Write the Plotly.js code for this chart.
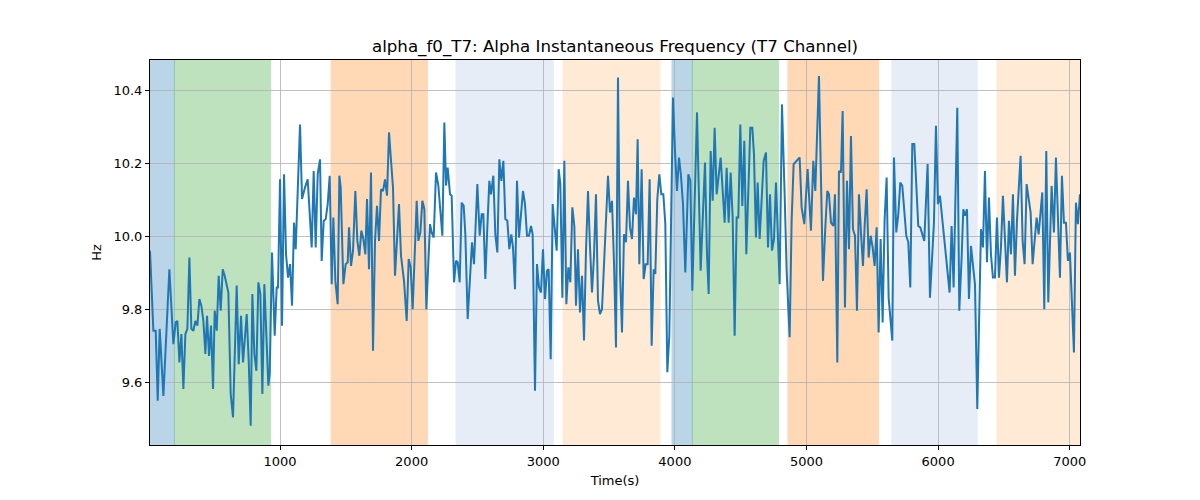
<!DOCTYPE html>
<html>
<head>
<meta charset="utf-8">
<script src="https://cdn.plot.ly/plotly-3.0.1.min.js"></script>
<style>html,body{margin:0;padding:0;background:#fff;}#chart{width:1200px;height:500px;}</style>
</head>
<body>
<div id="chart"></div>
<script>
// Time (s) of each sample
const timeSec = [12,37.7,55.4,70.6,85.8,113.7,159.2,189.6,207.3,220.0,235.2,250.4,265.6,280.8,296.0,311.2,326.3,341.5,356.7,371.9,387.1,402.3,417.5,432.7,445.4,460.5,475.7,490.9,503.6,518.8,534.0,549.2,564.4,579.5,607.4,625.1,642.8,658.0,670.7,685.9,703.6,718.8,731.5,746.7,761.9,777.0,789.7,804.9,820.1,835.3,850.5,865.7,880.9,896.0,911.2,921.4,939.1,959.3,974.5,984.7,
1000,1015.2,1030.4,1045.6,1060.8,1076.0,1091.2,1106.3,1119.0,1151.9,1167.1,1189.9,1210.2,1240.5,1255.7,1270.9,1286.1,1303.8,1316.5,1331.7,1346.9,1362.1,1377.3,1392.5,1405.1,1420.3,1438.0,1450.7,1460.8,1481.1,1498.8,1514.0,1524.1,1539.3,1554.5,1572.2,1587.4,1602.6,1617.8,1633.0,1648.2,1660.9,1676.0,1691.2,1706.4,1721.6,1736.8,1752.0,1767.2,1782.4,1797.6,1812.8,1828.0,1843.2,1858.3,1873.5,1903.9,1919.1,1934.3,1941.9,1962.2,1977.4,1992.6,2007.7,
2038.3,2050.9,2066.1,2081.3,2096.5,2111.7,2139.5,2152.2,2167.4,2185.1,2202.8,2233.2,2248.4,2261.1,2273.7,2291.5,2304.1,2321.8,2337.0,2349.7,2364.9,2380.1,2395.3,2407.9,2425.7,2443.4,2458.6,2473.8,2486.4,2499.1,2516.8,2532.0,2544.7,2559.9,2575.0,2590.2,2602.9,2620.6,2635.8,2651.0,2666.2,2681.4,2696.6,2711.8,2727.0,2742.2,2757.3,2770.0,2785.2,2800.4,2815.6,2830.8,2846.0,2861.2,2876.4,2891.5,2906.7,2919.4,2937.1,2952.3,2967.5,2982.7,2997.9,3013.1,3028.3,3040.9,
3056.3,3071.5,3086.6,3101.8,3117.0,3129.7,3144.9,3160.1,3175.3,3190.5,3205.7,3220.8,3236.0,3248.7,3263.9,3279.1,3294.3,3309.5,3324.7,3339.9,3355.0,3370.2,3385.4,3400.6,3415.8,3431.0,3446.2,3461.4,3476.6,3491.8,3506.9,3522.1,3537.3,3552.5,3567.7,3582.9,3598.1,3613.3,3628.5,3643.7,3658.9,3674.1,3689.3,3704.5,3717.1,3729.8,3747.5,3762.7,3777.9,3793.1,3808.3,3823.5,3838.7,3851.3,3866.5,3881.7,3896.9,3912.1,3927.3,3942.5,3957.7,3970.3,3985.5,4000.7,4015.9,4031.1,4046.3,4061.5,4079.2,
4102.1,4117.3,4132.5,4150.2,4168.0,4195.8,4228.7,4243.9,4256.6,4271.8,4287.0,4302.1,4317.3,4347.7,4362.9,4378.1,4393.3,4408.5,4423.7,4438.9,4454.1,4469.3,4481.9,4497.1,4512.3,4527.5,4542.7,4557.9,4573.1,4588.3,4600.9,4616.1,4628.8,4644.0,4659.2,4674.4,4692.1,4707.3,4722.5,4737.7,4752.8,4768.0,4795.9,4813.6,4833.9,4849.1,4871.8,4887.0,4902.2,4932.6,4947.8,4963.0,4983.3,5008.6,5033.9,5051.6,5066.8,5094.7,5125.1,
5142.9,5158.1,5170.8,5186.0,5203.7,5216.3,5234.1,5246.7,5261.9,5274.6,5292.3,5307.5,5322.7,5337.9,5353.1,5368.3,5383.5,5398.6,5413.8,5429.0,5441.7,5456.9,5472.1,5487.3,5502.5,5517.6,5532.8,5548.0,5563.2,5578.4,5593.6,5608.8,5624.0,5651.8,5664.5,5682.2,5697.4,5712.6,5727.8,5758.2,5773.4,5788.6,5803.8,5819.0,5849.3,5864.5,5894.9,5920.2,5938.0,5968.4,5983.5,5998.7,6013.9,6044.3,6064.6,6087.3,6102.5,6117.7,6145.6,
6160.9,6178.6,6191.3,6204.0,6219.2,6234.3,6249.5,6279.9,6297.6,6325.5,6340.7,6355.9,6371.1,6386.3,6401.5,6416.6,6431.8,6447.0,6462.2,6477.4,6492.6,6523.0,6538.2,6553.4,6568.6,6583.8,6599.0,6626.8,6642.0,6657.2,6672.4,6702.8,6718.0,6748.3,6763.5,6791.4,6806.6,6821.8,6837.0,6862.3,6880.0,6895.2,6925.6,6940.8,6956.0,6971.2,6986.4,7001.5,7031.9,7047.1,7062.3,7077.5];

// Alpha instantaneous frequency (Hz)
const freqHz = [9.961,9.741,9.741,9.549,9.746,9.562,9.910,9.704,9.764,9.768,9.654,9.732,9.581,9.732,9.746,9.942,9.746,9.741,9.768,9.755,9.828,9.810,9.768,9.677,9.782,9.672,9.755,9.581,9.796,9.741,9.892,9.796,9.910,9.892,9.846,9.567,9.503,9.709,9.865,9.649,9.782,9.654,9.723,9.787,9.659,9.480,9.842,9.677,9.631,9.874,9.842,9.567,9.869,9.723,9.590,9.622,9.956,9.727,9.860,9.860,
10.157,9.755,10.171,9.951,9.887,9.924,9.810,10.038,9.965,10.308,10.103,10.135,10.157,9.970,10.180,9.970,10.171,10.212,9.933,10.043,10.048,10.089,10.167,9.869,10.052,9.878,9.814,10.167,10.135,9.869,9.924,9.929,10.025,9.919,9.961,10.125,9.988,9.947,10.016,9.993,9.951,10.103,9.910,10.176,9.686,9.988,10.084,9.988,10.130,10.125,10.157,10.112,10.286,10.208,10.135,9.892,10.089,9.947,9.897,9.878,9.768,9.938,9.915,9.800,
10.098,9.988,10.011,10.098,10.075,9.800,10.034,10.011,9.997,10.176,10.140,10.002,10.313,10.140,10.189,10.116,10.112,9.874,9.933,9.929,9.874,10.093,10.084,10.006,9.773,9.892,9.984,9.924,10.043,10.144,10.002,10.061,10.061,9.883,10.025,10.153,10.116,10.167,10.006,9.956,10.212,10.153,10.208,10.048,10.043,9.965,10.006,9.970,9.855,10.153,9.997,10.070,10.125,10.089,10.002,10.002,10.029,10.006,9.576,9.924,9.860,9.846,9.965,9.828,9.906,9.910,
9.663,10.089,10.025,9.961,10.185,10.144,9.832,10.208,9.814,9.915,9.874,10.080,10.029,9.810,9.965,9.791,9.892,9.714,9.961,10.125,9.974,9.846,9.947,10.116,9.823,9.787,9.800,9.919,10.038,10.167,10.066,10.098,9.929,9.695,10.437,9.906,9.736,10.006,9.984,10.153,10.025,9.993,10.107,10.061,10.267,9.924,10.185,9.883,9.924,9.924,10.157,9.700,9.910,9.897,10.103,10.171,10.116,10.116,10.034,9.627,9.727,10.006,10.382,10.235,10.125,10.217,10.167,10.089,9.901,
10.171,10.153,9.851,10.070,10.341,9.906,10.203,9.951,9.842,10.235,10.098,10.299,10.116,10.217,10.135,10.038,10.189,10.038,10.176,10.052,9.727,10.052,10.052,10.308,10.084,10.263,9.951,10.116,10.299,10.299,10.226,9.997,10.148,9.993,10.116,10.208,10.231,9.970,10.116,9.961,9.993,10.148,9.869,10.363,10.116,9.906,9.723,10.043,10.199,10.212,10.217,10.080,10.034,10.185,10.016,10.208,10.125,10.441,9.878,
10.025,10.125,10.116,10.038,10.029,10.116,9.654,10.180,10.176,10.345,9.805,10.153,9.965,10.276,10.020,10.002,9.796,10.116,10.011,9.919,10.029,10.130,9.942,10.002,9.970,9.919,10.025,9.736,9.993,9.764,10.048,10.162,9.832,9.714,10.217,10.011,10.061,10.148,10.139,10.002,9.984,9.860,10.254,10.254,10.029,10.025,9.988,10.199,9.832,10.038,10.304,10.089,10.112,9.993,9.919,9.846,10.029,9.860,10.354,
9.796,9.942,10.075,10.057,10.075,9.828,9.974,9.869,9.526,10.020,9.970,10.180,9.929,10.107,9.951,9.887,9.887,10.052,9.887,9.970,10.112,9.874,10.043,9.951,10.116,9.892,10.043,10.222,9.988,9.924,10.144,10.066,9.924,10.052,10.006,10.121,9.800,10.235,9.819,10.139,10.011,10.217,9.887,10.167,10.038,10.038,9.933,9.956,9.681,10.093,10.034,10.116];

// Shaded state spans
const spanStart = [12, 197, 1388, 2337, 3150, 3978, 4132, 4859, 5649, 6447];
const spanEnd   = [197, 929, 2119, 3076, 3887, 4132, 4788, 5548, 6297, 7078];
const spanColor = ['#1f77b4', '#2ca02c', '#ff7f0e', '#aec7e8', '#ffbb78',
                   '#1f77b4', '#2ca02c', '#ff7f0e', '#aec7e8', '#ffbb78'];

const xTicks = [1000, 2000, 3000, 4000, 5000, 6000, 7000];
const yTicks = [9.6, 9.8, 10.0, 10.2, 10.4];

const shapes = spanStart.map((s, i) => ({
  type: 'rect', xref: 'x', yref: 'paper',
  x0: s, x1: spanEnd[i], y0: 0, y1: 1,
  fillcolor: spanColor[i], opacity: 0.3,
  line: {width: 1, color: spanColor[i]},
  layer: 'below'
}));

const trace = {
  x: timeSec, y: freqHz, type: 'scatter', mode: 'lines',
  line: {color: '#1f77b4', width: 2}, hoverinfo: 'skip'
};

const font = {family: 'DejaVu Sans, sans-serif', size: 13, color: '#000'};

const layout = {
  width: 1200, height: 500,
  margin: {l: 150, r: 120, t: 60, b: 55},
  paper_bgcolor: '#fff', plot_bgcolor: '#fff',
  font: font,
  showlegend: false,
  title: {
    text: 'alpha_f0_T7: Alpha Instantaneous Frequency (T7 Channel)',
    font: {family: 'DejaVu Sans, sans-serif', size: 16.67, color: '#000'},
    x: 0.5125, xanchor: 'center', xref: 'container',
    y: 0.908, yanchor: 'middle', yref: 'container'
  },
  xaxis: {
    range: [12, 7078],
    tickvals: xTicks, ticktext: xTicks.map(String),
    showgrid: true, gridcolor: '#b0b0b0', gridwidth: 0.8,
    zeroline: false, showline: true, linecolor: '#000', linewidth: 1, mirror: true,
    ticks: 'outside', ticklen: 4, tickcolor: '#000', tickwidth: 1,
    tickfont: font,
    title: {text: 'Time(s)', font: font, standoff: 8}
  },
  yaxis: {
    range: [9.427, 10.485],
    tickvals: yTicks, ticktext: yTicks.map(v => v.toFixed(1)),
    showgrid: true, gridcolor: '#b0b0b0', gridwidth: 0.8,
    zeroline: false, showline: true, linecolor: '#000', linewidth: 1, mirror: true,
    ticks: 'outside', ticklen: 4, tickcolor: '#000', tickwidth: 1,
    tickfont: font,
    title: {text: 'Hz', font: font, standoff: 8}
  },
  shapes: shapes
};

Plotly.newPlot('chart', [trace], layout, {displayModeBar: false, staticPlot: true});
</script>
</body>
</html>
